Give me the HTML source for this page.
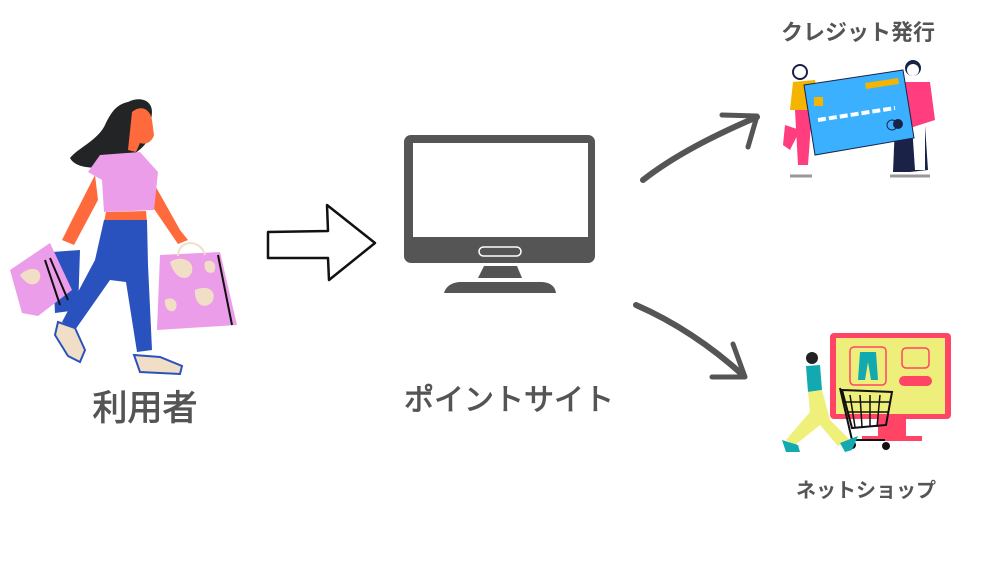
<!DOCTYPE html>
<html><head><meta charset="utf-8"><style>
html,body{margin:0;padding:0;background:#fff;}
body{width:1000px;height:562px;overflow:hidden;position:relative;}
svg{position:absolute;left:0;top:0;}
.t{font-family:"Liberation Sans","Noto Sans CJK JP",sans-serif;fill:#555;font-weight:bold;}
.n{font-family:"Liberation Sans","Noto Sans CJK JP",sans-serif;fill:#555;font-weight:normal;stroke:#555;stroke-width:0.9;}
</style></head><body>
<svg width="1000" height="562" viewBox="0 0 1000 562">
<g>
<path d="M128 102 C140 96 152 100 152 112 L150 135 C146 150 125 160 112 165 C95 170 75 168 70 158 C78 148 98 140 105 125 C112 110 118 104 128 102Z" fill="#222426"/>
<path d="M132 112 C140 105 150 108 152 120 L154 135 C152 142 146 145 140 143 L136 152 L128 150 Z" fill="#ff6a3c"/>
<path d="M95 175 L72 220 L62 240 L74 245 L98 200Z" fill="#ff6a3c"/>
<path d="M152 180 L180 230 L188 240 L178 244 L148 200Z" fill="#ff6a3c"/>
<path d="M100 155 L140 152 L158 172 L154 210 L104 212 L102 180 L88 172Z" fill="#eb9de9"/>
<path d="M106 212 L146 211 L147 222 L104 222Z" fill="#ff6a3c"/>
<path d="M104 220 L147 220 L148 265 L152 350 L137 352 L126 282 L110 280 L75 330 L62 322 L95 260 Z" fill="#2a52be"/>
<path d="M58 322 L75 328 L85 350 L80 362 L68 356 L55 335Z" fill="#f0dfc6" stroke="#2a52be" stroke-width="2"/>
<path d="M134 355 L160 357 L182 366 L180 374 L140 372 Z" fill="#f0dfc6" stroke="#2a52be" stroke-width="2"/>
<path d="M52 252 L80 250 L78 310 L55 313Z" fill="#2a52be"/>
<path d="M10 270 L50 243 L72 290 L38 316 L22 313Z" fill="#eb9de9"/>
<path d="M20 275 C30 265 42 268 40 278 C38 286 28 288 20 275Z" fill="#f0dfc6"/>
<path d="M45 260 L60 305 M50 258 L68 300" stroke="#111" stroke-width="2"/>
<path d="M160 255 L220 252 L237 325 L157 330Z" fill="#eb9de9"/>
<path d="M170 262 C180 255 195 260 192 272 C188 282 175 280 170 262Z M195 290 C208 284 218 292 212 302 C205 310 194 305 195 290Z M165 300 C172 295 180 302 175 310 C170 314 164 308 165 300Z M205 262 C212 258 218 264 214 272 C208 275 203 270 205 262Z" fill="#f0dfc6"/>
<path d="M178 256 C178 240 200 238 205 255" fill="none" stroke="#f0dfc6" stroke-width="2"/>
<path d="M218 255 L232 325" stroke="#111" stroke-width="2"/>
</g>
<text class="n" x="145" y="420" font-size="35" text-anchor="middle">利用者</text>
<path d="M268 232 L328 231 L327 205 L375 243 L329 280 L328 258 L268 258Z" fill="#fff" stroke="#111" stroke-width="2.5" stroke-linejoin="round"/>
<rect x="404" y="135" width="191" height="128" rx="7" fill="#555"/>
<rect x="413" y="143" width="175" height="94" fill="#fff"/>
<rect x="479" y="247" width="42" height="9" rx="4.5" fill="none" stroke="#fff" stroke-width="1.5"/>
<path d="M484 266 L517 266 L522 278 L478 278Z" fill="#555"/>
<path d="M444 293 C446 286 452 282 462 282 L540 282 C550 282 555 286 556 293Z" fill="#555"/>
<text class="n" x="509" y="410" font-size="30" text-anchor="middle">ポイントサイト</text>
<path d="M643 180 C675 155 715 135 757 117" fill="none" stroke="#555" stroke-width="6" stroke-linecap="round"/>
<path d="M722 115 L757 116 L748 147" fill="none" stroke="#555" stroke-width="5" stroke-linecap="round" stroke-linejoin="round"/>
<path d="M636 305 C675 322 712 347 744 376" fill="none" stroke="#555" stroke-width="6" stroke-linecap="round"/>
<path d="M712 377 L745 377 L733 344" fill="none" stroke="#555" stroke-width="5" stroke-linecap="round" stroke-linejoin="round"/>
<text class="t" x="858" y="40" font-size="22" text-anchor="middle">クレジット発行</text>
<g>
<path d="M793 82 L815 80 L820 110 L790 110Z" fill="#f4b400"/>
<path d="M795 110 L812 110 L808 165 L798 165Z M785 125 L800 130 L790 150 L783 145Z" fill="#ff3d7f"/>
<circle cx="800" cy="72" r="7" fill="#fff" stroke="#1a2347" stroke-width="2"/>
<path d="M905 82 L930 82 L935 120 L910 128Z" fill="#ff3d7f"/>
<path d="M895 125 L912 125 L915 170 L925 170 L925 125 L928 170 L910 172 L893 172Z" fill="#1a2347"/>
<circle cx="913" cy="68" r="8" fill="#1a2347"/>
<circle cx="913" cy="70" r="6" fill="#fff"/>
<path d="M804 85 L903 70 L914 138 L815 155Z" fill="#3ab0ff" stroke="#1a2347" stroke-width="1"/>
<path d="M865 83 L898 78 L899 84 L866 89Z" fill="#f4b400"/>
<rect x="814" y="97" width="9" height="9" fill="#f4b400"/>
<path d="M818 120 L895 108" stroke="#fff" stroke-width="4" stroke-dasharray="8 3"/>
<circle cx="898" cy="124" r="5" fill="#1a2347"/>
<circle cx="892" cy="125" r="5" fill="none" stroke="#1a2347"/>
<path d="M790 176 L812 176 M890 176 L930 176" stroke="#999" stroke-width="3"/>
</g>
<g>
<rect x="830" y="333" width="121" height="86" rx="4" fill="#ff4466"/>
<rect x="836" y="338" width="109" height="76" fill="#eeee7a"/>
<rect x="850" y="347" width="36" height="38" rx="4" fill="none" stroke="#ff4466" stroke-width="1.5"/>
<path d="M860 352 L876 352 L878 380 L871 380 L868 362 L865 380 L858 380Z" fill="#12aab0"/>
<rect x="902" y="348" width="27" height="20" rx="4" fill="none" stroke="#ff4466" stroke-width="1.5"/>
<rect x="899" y="376" width="33" height="10" rx="5" fill="#ff4466"/>
<rect x="878" y="418" width="28" height="20" fill="#ff4466"/>
<rect x="862" y="436" width="60" height="5" fill="#ff4466"/>
<path d="M842 390 L892 392 L886 425 L852 428Z" fill="none" stroke="#111" stroke-width="2"/>
<path d="M850 395 L855 427 M860 395 L862 427 M870 395 L870 427 M880 395 L877 427 M845 402 L890 402 M847 412 L888 412" stroke="#111" stroke-width="1.5"/>
<path d="M840 388 L852 440 L885 440" fill="none" stroke="#111" stroke-width="2"/>
<circle cx="852" cy="445" r="4" fill="#111"/><circle cx="886" cy="446" r="4" fill="#111"/>
<circle cx="812" cy="358" r="6" fill="#222"/>
<path d="M806 366 L820 365 L822 390 L808 392Z" fill="#12aab0"/>
<path d="M808 392 L822 390 L830 420 L850 440 L838 446 L820 425 L795 445 L786 440 L810 412Z" fill="#eef07a"/>
<path d="M782 440 L798 445 L800 452 L786 452Z M840 443 L858 436 L852 450 L845 452Z" fill="#12aab0"/>
</g>
<text class="t" x="866" y="497" font-size="20" text-anchor="middle">ネットショップ</text>
</svg>
</body></html>
